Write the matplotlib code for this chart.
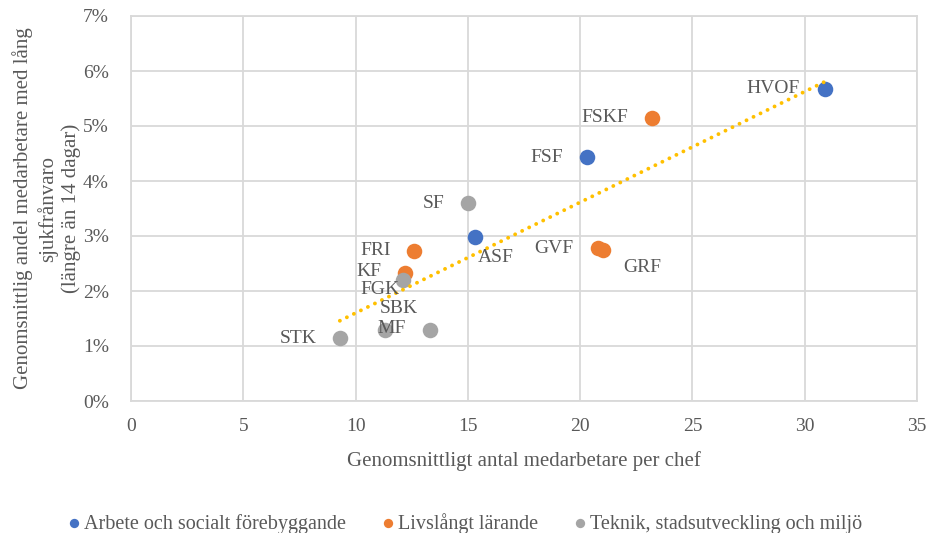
import numpy as np
import matplotlib.pyplot as plt

# Data
arbete_names = ["HVOF", "FSF", "ASF"]
arbete_x = [30.9, 20.3, 15.3]
arbete_y = [0.0568, 0.0443, 0.0298]

livs_names = ["FSKF", "FRI", "KF", "GVF", "GRF"]
livs_x = [23.2, 12.6, 12.2, 20.8, 21.0]
livs_y = [0.0515, 0.0273, 0.0232, 0.0278, 0.0275]

teknik_names = ["SF", "FGK", "SBK", "MF", "STK"]
teknik_x = [15.0, 12.1, 11.3, 13.3, 9.3]
teknik_y = [0.0360, 0.0220, 0.0130, 0.0130, 0.0115]

series_names = ["Arbete och socialt förebyggande", "Livslångt lärande",
                "Teknik, stadsutveckling och miljö"]

# label offsets (pixels) relative to each point
label_offsets = {
    "HVOF": (-52, 0), "FSF": (-40, 0), "ASF": (21, -20),
    "FSKF": (-47, 0), "FRI": (-38, 0), "KF": (-36, 2),
    "GVF": (-44, 0), "GRF": (40, -18),
    "SF": (-34, 0), "FGK": (-23, -10), "SBK": (14, 21),
    "MF": (-38, 1), "STK": (-42, -1),
}

text_col = "#595959"
grid_col = "#D9D9D9"
plt.rcParams['font.family'] = ['Liberation Serif', 'DejaVu Serif']

fig = plt.figure(figsize=(9.26, 5.33), dpi=100)
ax = fig.add_axes([131 / 926, 1 - 401 / 533, 786 / 926, 385 / 533])

colors = ["#4472C4", "#ED7D31", "#A5A5A5"]
groups = [(arbete_names, arbete_x, arbete_y),
          (livs_names, livs_x, livs_y),
          (teknik_names, teknik_x, teknik_y)]

for (names, xs, ys), col, lab in zip(groups, colors, series_names):
    ax.scatter(xs, ys, s=125, color=col, label=lab, zorder=3, linewidths=0)
    for nm, x, y in zip(names, xs, ys):
        ax.annotate(nm, (x, y), xytext=label_offsets[nm], textcoords='offset pixels',
                    ha='center', va='center', fontsize=14, color=text_col, zorder=5)

# linear trendline over all points
all_x = np.array(arbete_x + livs_x + teknik_x)
all_y = np.array(arbete_y + livs_y + teknik_y)
k, m = np.polyfit(all_x, all_y, 1)
tx = np.array([all_x.min(), all_x.max()])
ax.plot(tx, k * tx + m, color="#FFC000", linewidth=2.8,
        linestyle=(0, (0.01, 2.0)), dash_capstyle='round', zorder=4)

ax.set_xlim(0, 35)
ax.set_ylim(0, 0.07)
ax.set_xticks(np.arange(0, 36, 5))
ax.set_yticks(np.arange(0, 0.071, 0.01))
ax.set_yticklabels([f"{i}%" for i in range(8)])
ax.grid(True, color=grid_col, linewidth=1.3)
ax.set_axisbelow(True)
for sp in ax.spines.values():
    sp.set_color(grid_col)
    sp.set_linewidth(1.3)
ax.tick_params(length=0, labelsize=14, colors=text_col)
ax.tick_params(axis='y', pad=16)
ax.tick_params(axis='x', pad=12)

ax.set_xlabel("Genomsnittligt antal medarbetare per chef", fontsize=15, color=text_col)
ax.xaxis.set_label_coords(0.5, -0.13)
ax.set_ylabel("Genomsnittlig andel medarbetare med lång\nsjukfrånvaro\n(längre än 14 dagar)",
              fontsize=15, color=text_col, linespacing=1.25)
ax.yaxis.set_label_coords(-0.063, 0.5)

fig.legend(loc='lower center', bbox_to_anchor=(0.5, -0.035), ncol=3, frameon=False,
           fontsize=14.5, labelcolor=text_col, handletextpad=0.0, columnspacing=1.6,
           markerscale=0.6, handlelength=1.0)

fig.savefig("out.png", dpi=100)
